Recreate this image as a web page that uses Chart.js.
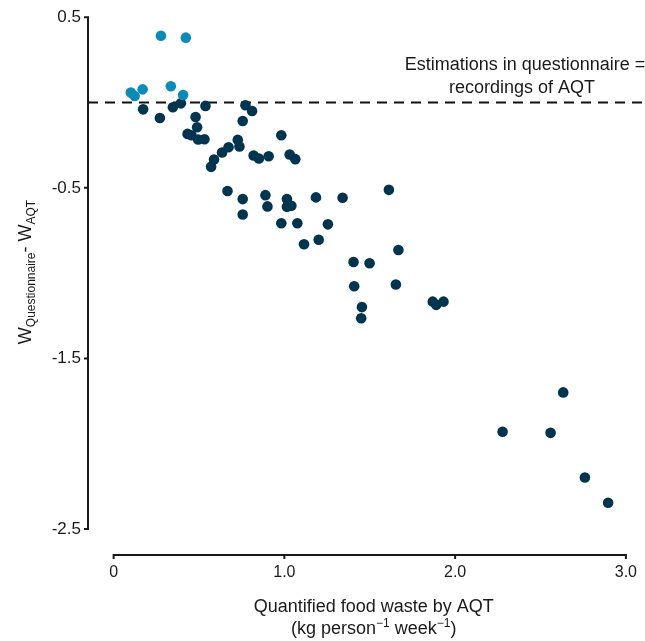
<!DOCTYPE html>
<html><head><meta charset="utf-8">
<script src="https://cdn.jsdelivr.net/npm/chart.js@4.4.1/dist/chart.umd.min.js"></script>
<style>html,body{margin:0;padding:0;background:#fff}#wrap{width:645px;height:641px;position:relative}</style>
</head><body><div id="wrap"><canvas id="c"></canvas></div>
<script>
// Households whose questionnaire estimate exceeded AQT recordings (light blue)
const overX = [0.277, 0.423, 0.101, 0.123, 0.170, 0.335, 0.407];
const overY = [0.391, 0.380, 0.058, 0.038, 0.077, 0.095, 0.044];
// Households whose questionnaire estimate was below AQT recordings (dark)
const underX = [0.173, 0.271, 0.347, 0.394, 0.538, 0.772, 0.811, 0.756, 0.480, 0.489,
  0.433, 0.456, 0.495, 0.532, 0.727, 0.737, 0.673, 0.635, 0.982, 0.588,
  0.571, 0.820, 0.851, 0.908, 1.031, 1.064, 0.667, 0.756, 0.756, 0.889,
  0.901, 1.015, 1.015, 1.041, 1.185, 0.982, 1.076, 1.115, 1.201, 1.255,
  1.341, 1.612, 1.405, 1.499, 1.409, 1.653, 1.668, 1.454, 1.450, 1.869,
  1.889, 1.932, 2.633, 2.278, 2.559, 2.760, 2.896];
const underY = [-0.040, -0.091, -0.028, -0.005, -0.020, -0.016, -0.050, -0.108, -0.085, -0.145,
  -0.184, -0.192, -0.217, -0.215, -0.219, -0.258, -0.262, -0.293, -0.192, -0.334,
  -0.377, -0.311, -0.328, -0.315, -0.305, -0.332, -0.519, -0.566, -0.656, -0.543,
  -0.609, -0.566, -0.611, -0.605, -0.556, -0.708, -0.708, -0.831, -0.804, -0.714,
  -0.558, -0.512, -0.935, -0.942, -1.077, -1.067, -0.864, -1.199, -1.264, -1.167,
  -1.186, -1.167, -1.699, -1.930, -1.936, -2.198, -2.346];
const xTicks = [0, 1, 2, 3];
const xTickLabels = ['0', '1.0', '2.0', '3.0'];
const yTicks = [0.5, -0.5, -1.5, -2.5];
const yTickLabels = ['0.5', '-0.5', '-1.5', '-2.5'];
const refLineY = 0;
const refLabel = ['Estimations in questionnaire =', 'recordings of AQT'];
const xTitle = ['Quantified food waste by AQT', '(kg person', '\u22121', ' week', '\u22121', ')'];

const X_MIN = -0.150, X_MAX = 3.107, Y_MIN = -2.652, Y_MAX = 0.5;
const FONT = '"Liberation Sans", Arial, Helvetica, sans-serif';
const INK = '#1a1a1a';

const toPts = (xs, ys) => xs.map((x, i) => ({x, y: ys[i]}));

const decor = {
  id: 'decor',
  beforeDatasetsDraw(chart) {
    const {ctx} = chart;
    const sx = chart.scales.x, sy = chart.scales.y;
    ctx.save();
    ctx.strokeStyle = INK;
    ctx.lineWidth = 2;
    // y axis
    const ax = chart.chartArea.left;
    const yTop = sy.getPixelForValue(yTicks[0]);
    const yBot = sy.getPixelForValue(yTicks[yTicks.length - 1]);
    ctx.beginPath();
    ctx.moveTo(ax, yTop - 1); ctx.lineTo(ax, yBot + 1);
    yTicks.forEach(v => { const p = sy.getPixelForValue(v); ctx.moveTo(ax, p); ctx.lineTo(ax - 4, p); });
    ctx.stroke();
    // x axis
    const ay = chart.chartArea.bottom;
    const xL = sx.getPixelForValue(xTicks[0]);
    const xR = sx.getPixelForValue(xTicks[xTicks.length - 1]);
    ctx.beginPath();
    ctx.moveTo(xL - 1, ay); ctx.lineTo(xR + 1, ay);
    xTicks.forEach(v => { const p = sx.getPixelForValue(v); ctx.moveTo(p, ay); ctx.lineTo(p, ay + 4); });
    ctx.stroke();
    ctx.restore();
  },
  afterDraw(chart) {
    const {ctx} = chart;
    const sx = chart.scales.x, sy = chart.scales.y;
    ctx.save();
    ctx.fillStyle = INK;
    // reference label
    ctx.font = '18px ' + FONT;
    ctx.textAlign = 'center';
    ctx.textBaseline = 'middle';
    const ry = sy.getPixelForValue(refLineY);
    ctx.fillText(refLabel[0], 525, ry - 37);
    ctx.fillText(refLabel[1], 522, ry - 14);
    // x title
    const cx = (sx.getPixelForValue(xTicks[0]) + sx.getPixelForValue(xTicks[xTicks.length - 1])) / 2 + 4;
    ctx.fillText(xTitle[0], cx, 607);
    // second line with superscripts
    const big = '18px ' + FONT, small = '12px ' + FONT;
    const parts = [[xTitle[1], big, 0], [xTitle[2], small, -7], [xTitle[3], big, 0], [xTitle[4], small, -7], [xTitle[5], big, 0]];
    let w = 0;
    parts.forEach(p => { ctx.font = p[1]; w += ctx.measureText(p[0]).width; });
    let x0 = cx - w / 2;
    ctx.textAlign = 'left';
    ctx.textBaseline = 'alphabetic';
    parts.forEach(p => { ctx.font = p[1]; ctx.fillText(p[0], x0, 634 + p[2]); x0 += ctx.measureText(p[0]).width; });
    // y title with subscripts, rotated
    const yparts = [['W', big, 0], ['Questionnaire', small, 4], ['- W', big, 0], ['AQT', small, 4]];
    let tw = 0;
    yparts.forEach(p => { ctx.font = p[1]; tw += ctx.measureText(p[0]).width; });
    ctx.translate(31, 272);
    ctx.rotate(-Math.PI / 2);
    let t0 = -tw / 2;
    yparts.forEach(p => { ctx.font = p[1]; ctx.fillText(p[0], t0, p[2]); t0 += ctx.measureText(p[0]).width; });
    ctx.restore();
  }
};

new Chart(document.getElementById('c'), {
  type: 'scatter',
  data: {
    datasets: [
      {
        type: 'line',
        data: [{x: X_MIN, y: refLineY}, {x: X_MAX, y: refLineY}],
        borderColor: '#111',
        borderWidth: 2,
        borderDash: [10, 7],
        pointRadius: 0,
        fill: false,
        order: 3
      },
      {
        data: toPts(underX, underY),
        backgroundColor: '#00344f',
        borderWidth: 0,
        pointRadius: 5.3,
        pointHoverRadius: 5.3,
        order: 2
      },
      {
        data: toPts(overX, overY),
        backgroundColor: '#0a8bba',
        borderWidth: 0,
        pointRadius: 5.3,
        pointHoverRadius: 5.3,
        order: 1
      }
    ]
  },
  options: {
    responsive: true,
    maintainAspectRatio: false,
    animation: false,
    devicePixelRatio: 1,
    layout: {autoPadding: false, padding: {top: 16, right: 0, bottom: 0, left: 0}},
    plugins: {legend: {display: false}, tooltip: {enabled: false}},
    scales: {
      x: {
        type: 'linear', min: X_MIN, max: X_MAX,
        afterBuildTicks: s => { s.ticks = xTicks.map(v => ({value: v})); },
        afterFit: s => { s.height = 86; },
        grid: {display: false, drawTicks: false},
        border: {display: false},
        ticks: {
          autoSkip: false, maxRotation: 0, padding: 8,
          color: INK, font: {family: FONT, size: 16},
          callback: v => xTickLabels[xTicks.indexOf(v)]
        }
      },
      y: {
        type: 'linear', min: Y_MIN, max: Y_MAX,
        afterBuildTicks: s => { s.ticks = yTicks.map(v => ({value: v})); },
        afterFit: s => { s.width = 88; },
        grid: {display: false, drawTicks: false},
        border: {display: false},
        ticks: {
          autoSkip: false, padding: 7,
          color: INK, font: {family: FONT, size: 17},
          callback: v => yTickLabels[yTicks.indexOf(v)]
        }
      }
    }
  },
  plugins: [decor]
});
</script></body></html>
